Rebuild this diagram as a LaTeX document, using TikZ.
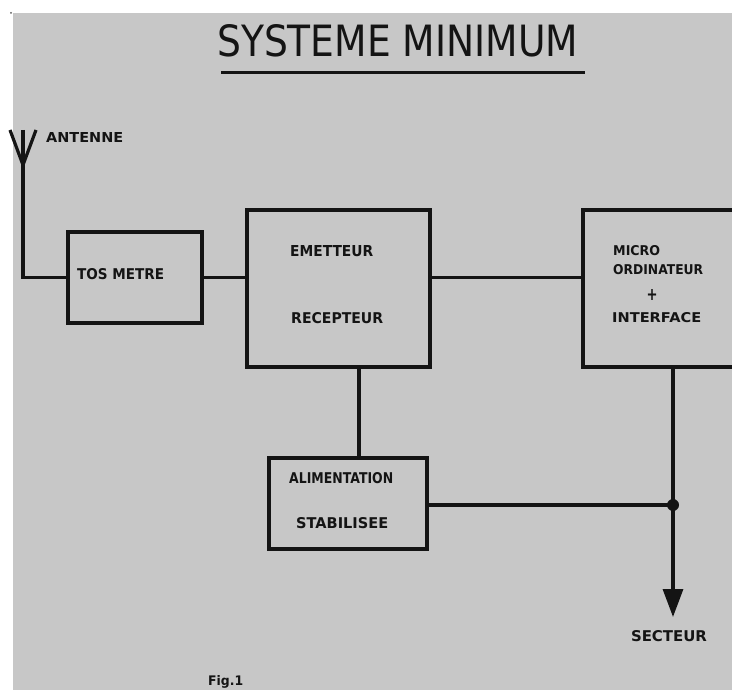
\documentclass[tikz,border=0pt]{standalone}
\usepackage{fontspec}
\setmainfont{Liberation Sans}
\newfontfamily\labfont{DejaVu Sans}
\newfontfamily\titfont{DejaVu Sans}
\usetikzlibrary{arrows.meta}
\definecolor{paper}{RGB}{199,199,199}
\definecolor{ink}{RGB}{20,20,20}
\newcommand{\fitlab}[3]{\resizebox{#1pt}{#2pt}{\labfont\bfseries #3}}
\tikzset{
  blk/.style={draw=ink, line width=3.2pt, fill=none, inner sep=0pt, rectangle},
  wire/.style={draw=ink, line width=3.2pt},
  lab/.style={inner sep=0pt, anchor=west, text=ink}
}
\begin{document}
\begin{tikzpicture}[x=1pt,y=-1pt]
\clip (0,0) rectangle (732,690);
\fill[white] (0,0) rectangle (732,690);
\fill[paper] (12.5,13) rectangle (732,690);
\fill[ink!70] (11,13) circle (1);
% title
\node[inner sep=0pt, anchor=south west, text=ink] (title) at (217,57) {\resizebox{361pt}{32pt}{\titfont SYSTEME MINIMUM}};
\draw[wire, line width=3pt] (221,73) -- (585,73);
% boxes
\node[blk, minimum width=134pt, minimum height=91pt] (tos) at (135,277.5) {};
\node[blk, minimum width=183pt, minimum height=157pt] (emrec) at (338.5,288.5) {};
\node[blk, minimum width=180pt, minimum height=157pt] (micro) at (673,288.5) {};
\node[blk, minimum width=158pt, minimum height=91pt] (alim) at (348,503.5) {};
% labels
\node[lab] (lant) at (46,138) {\fitlab{77}{10}{ANTENNE}};
\node[lab] (ltos) at (77,274.5) {\fitlab{87}{11}{TOS METRE}};
\node[lab] (lem) at (290,251) {\fitlab{83}{11}{EMETTEUR}};
\node[lab] (lrec) at (291,318.5) {\fitlab{92}{11}{RECEPTEUR}};
\node[lab] (lmic) at (613,251) {\fitlab{47}{10}{MICRO}};
\node[lab] (lord) at (613,270) {\fitlab{90}{10}{ORDINATEUR}};
\node[inner sep=0pt, text=ink] (lplus) at (652,295) {\fitlab{11}{11}{+}};
\node[lab] (lint) at (612,318) {\fitlab{89}{10}{INTERFACE}};
\node[lab] (lali) at (289,478) {\fitlab{104}{11}{ALIMENTATION}};
\node[lab] (lsta) at (296,523) {\fitlab{92}{11}{STABILISEE}};
\node[inner sep=0pt, text=ink] (lsec) at (669,636) {\fitlab{76}{11}{SECTEUR}};
\node[lab] (lfig) at (208,682) {\resizebox{35pt}{10pt}{\labfont\bfseries Fig.1}};
% antenna
\coordinate (antv) at (23,165);
\coordinate (antl) at (10,130);
\coordinate (antr) at (36,130);
\coordinate (antt) at (23,130);
\draw[wire, line join=round] (antl) -- (antv) -- (antr);
\draw[wire] (antt) -- (antv) |- (tos.west);
% connections
\draw[wire] (tos.east) -- (tos.east -| emrec.west);
\draw[wire] (tos.east -| emrec.east) -- (tos.east -| micro.west);
\coordinate (ea) at (359,0);
\draw[wire] (ea |- emrec.south) -- (ea |- alim.north);
\coordinate (junc) at (673,505);
\coordinate (sect) at (673,617);
\draw[wire] (alim.east |- junc) -- (junc);
\draw[wire, -{Triangle[width=20pt,length=28pt]}] (micro.south) -- (sect);
\fill[ink] (junc) circle (6);
\end{tikzpicture}
\end{document}
